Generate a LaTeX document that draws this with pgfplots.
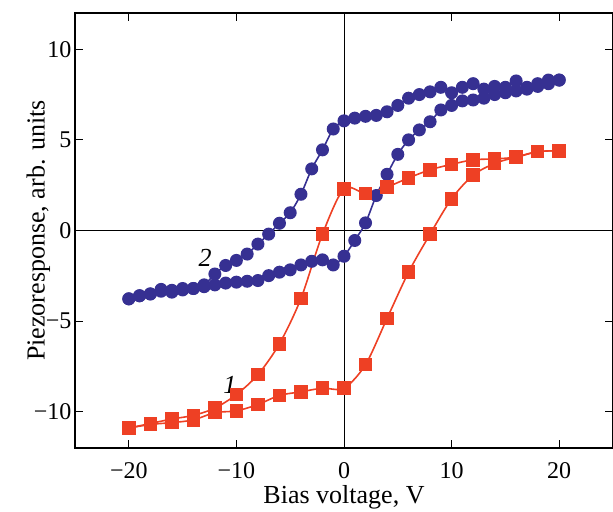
\documentclass[border=0pt]{standalone}
\usepackage{fontspec}
\setmainfont{Liberation Serif}
\usepackage{pgfplots}
\pgfplotsset{compat=1.18}
\definecolor{redser}{RGB}{238,64,36}
\definecolor{blueser}{RGB}{54,48,146}
\newcommand{\tickf}{\fontsize{24}{28}\selectfont}
\newcommand{\labf}{\fontsize{26}{30}\selectfont}
\begin{document}
\begin{tikzpicture}
\begin{axis}[
  scale only axis, width=538pt, height=435pt,
  xmin=-25, xmax=25, ymin=-12, ymax=12,
  xtick={-20,-10,0,10,20}, xticklabels={−20,−10,0,10,20},
  ytick={-10,-5,0,5,10}, yticklabels={−10,−5,0,5,10},
  tick align=inside, major tick length=8pt,
  tick style={black, line width=1pt},
  axis line style={line width=1.4pt},
  tick label style={font=\tickf},
  xticklabel style={anchor=base, yshift=-30pt},
  xlabel={Bias voltage, V},
  ylabel={Piezoresponse, arb. units},
  xlabel style={font=\labf, at={(axis description cs:0.5,-0.128)}, anchor=base},
  ylabel style={font=\labf, at={(axis description cs:-0.046,0.5)}, anchor=south, inner sep=0pt},
]
% zero lines
\addplot[black, line width=0.9pt] coordinates {(0,-12) (0,12)};
\addplot[black, line width=0.9pt] coordinates {(-25,0) (25,0)};

% curve 2, forward
\addplot[blueser, line width=1.6pt, smooth, mark=*, mark size=5.7pt, mark options={solid, fill=blueser, draw=blueser}]
coordinates {
(-20,-3.77) (-19,-3.6) (-18,-3.5) (-17,-3.35) (-16,-3.3) (-15,-3.28) (-14,-3.2)
(-13,-3.1) (-12,-3.0) (-11,-2.9) (-10,-2.85) (-9,-2.8) (-8,-2.76) (-7,-2.49)
(-6,-2.3) (-5,-2.17) (-4,-1.9) (-3,-1.7) (-2,-1.62) (-1,-1.9) (0,-1.42)
(1,-0.55) (2,0.42) (3,1.93) (4,3.1) (5,4.2) (6,5.0) (7,5.55) (8,6.0)
(9,6.65) (10,6.9) (11,7.15) (12,7.2) (13,7.3) (14,7.5) (15,7.6) (16,7.7)
(17,7.8) (18,7.95) (19,8.1) (20,8.3)
};
% curve 2, backward
\addplot[blueser, line width=1.6pt, smooth, mark=*, mark size=5.7pt, mark options={solid, fill=blueser, draw=blueser}]
coordinates {
(20,8.3) (19,8.3) (18,8.1) (17,7.9) (16,8.25) (15,7.9) (14,7.95) (13,7.8)
(12,8.1) (11,7.9) (10,7.6) (9,7.9) (8,7.65) (7,7.5) (6,7.3) (5,6.9)
(4,6.55) (3,6.35) (2,6.3) (1,6.2) (0,6.05) (-1,5.6) (-2,4.45) (-3,3.4)
(-4,2.0) (-5,0.98) (-6,0.4) (-7,-0.2) (-8,-0.75) (-9,-1.3) (-10,-1.65)
(-11,-1.93) (-12,-2.4) (-13,-3.0) (-14,-3.2) (-15,-3.2) (-16,-3.4)
(-17,-3.25) (-18,-3.5) (-19,-3.6) (-20,-3.77)
};

% curve 1, forward
\addplot[redser, line width=1.6pt, smooth, mark=square*, mark size=6pt, mark options={solid, fill=redser, draw=redser}]
coordinates {
(-20,-10.9) (-18,-10.7) (-16,-10.6) (-14,-10.45) (-12,-10.05) (-10,-9.95)
(-8,-9.6) (-6,-9.1) (-4,-8.9) (-2,-8.7) (0,-8.7) (2,-7.4) (4,-4.85)
(6,-2.3) (8,-0.2) (10,1.75) (12,3.05) (14,3.7) (16,4.05) (18,4.35) (20,4.4)
};
% curve 1, backward
\addplot[redser, line width=1.6pt, smooth, mark=square*, mark size=6pt, mark options={solid, fill=redser, draw=redser}]
coordinates {
(20,4.4) (18,4.35) (16,4.05) (14,3.95) (12,3.9) (10,3.65) (8,3.35) (6,2.9)
(4,2.4) (2,2.05) (0,2.3) (-2,-0.2) (-4,-3.75) (-6,-6.25) (-8,-7.95)
(-10,-9.05) (-12,-9.8) (-14,-10.2) (-16,-10.4) (-18,-10.65) (-20,-10.9)
};

\node[font=\labf\itshape] at (axis cs:-10.6,-8.5) {1};
\node[font=\labf\itshape] at (axis cs:-12.9,-1.5) {2};
\end{axis}
\pgfresetboundingbox
\path ([shift={(-75pt,-63pt)}]current axis.south west) rectangle ([shift={(0pt,13pt)}]current axis.north east);
\end{tikzpicture}
\end{document}
